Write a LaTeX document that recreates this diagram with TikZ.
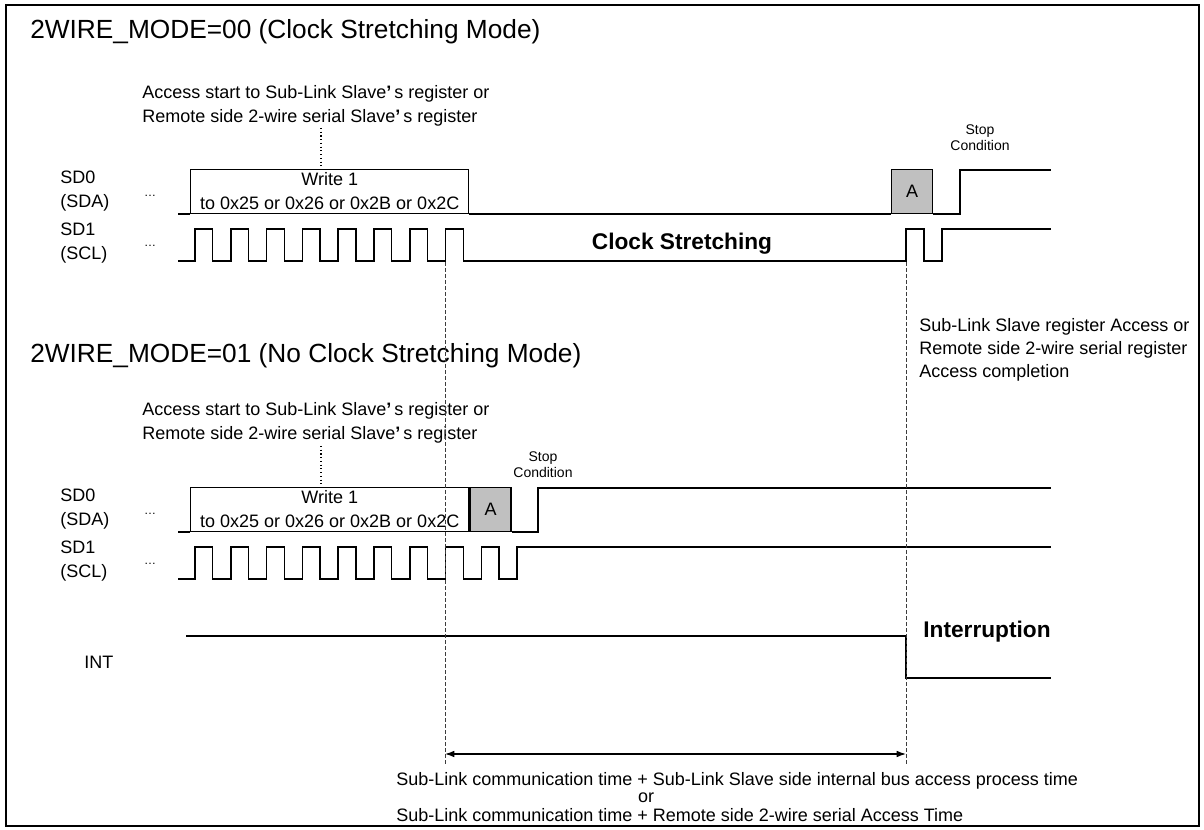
\documentclass[tikz,border=0pt]{standalone}
\usepackage{fontspec}
\setmainfont{Liberation Sans}
\usetikzlibrary{arrows.meta}
\definecolor{ackgray}{RGB}{192,192,192}
\definecolor{guidegray}{RGB}{60,60,60}

\begin{document}
\begin{tikzpicture}[x=0.75pt,y=-0.75pt,
    wave/.style={line width=1.1pt},
    guide/.style={line width=0.6pt, guidegray, dash pattern=on 3pt off 1.5pt},
    txt/.style={font=\fontsize{13.5}{18}\selectfont, inner sep=0pt, align=left},
    head/.style={font=\fontsize{19.7}{23}\selectfont, inner sep=0pt, anchor=west},
    big/.style={font=\bfseries\fontsize{17}{20}\selectfont, inner sep=0pt},
    tiny/.style={font=\fontsize{10.5}{12}\selectfont, inner sep=0pt, align=center},
    dotsym/.style={font=\fontsize{9}{10}\selectfont, inner sep=0pt},
    wbox/.style={draw, line width=1.1pt, txt, align=center, minimum width=208.5pt, minimum height=33pt, anchor=south west},
    abox/.style={draw, line width=1.1pt, fill=ackgray, txt, align=center, minimum width=30.75pt, minimum height=33pt, anchor=south west}]
        \useasboundingbox (0,0) rectangle (1204,830);
        \draw[line width=1.1pt] (6,5) rectangle (1199,826);

        % clock stretching mode
        \node[head] (t00) at (30,32) {2WIRE\_MODE=00 (Clock Stretching Mode)};
        \node[txt, anchor=west] (acc0) at (142,106) {Access start to Sub-Link Slave{\bfseries’}\,s register or\\Remote side 2-wire serial Slave{\bfseries’}\,s register};
        \draw[dotted, line width=0.8pt] (321,128) -- (321,170);

        \node[txt, anchor=west] (sda0) at (60,191) {SD0\\(SDA)};
        \node[txt, anchor=west] (scl0) at (60,243) {SD1\\(SCL)};
        \node[dotsym] (dsda0) at (150,196) {\dots};
        \node[dotsym] (dscl0) at (150,246) {\dots};

        \node[wbox] (wr0) at (190,214) {Write 1\\to 0x25 or 0x26 or 0x2B or 0x2C};
        \node[abox] (ack0) at (891,214) {A};
        \draw[wave] (178,214) -- (wr0.south west);
        \draw[wave] (wr0.south east) -- (ack0.south west);
        \draw[wave] (ack0.south east) -- (960,214) -- (960,170) -- (1051,170);
        \node[tiny] (stop0) at (980,138) {Stop\\Condition};

        \draw[wave] (178,261) -- (195,261)
            \foreach \k in {1,...,8} { -- ++(0,-32) -- ++(17.7,0) -- ++(0,32) -- ++(18.1,0) }
            -- (906,261) -- (906,229) -- (924,229) -- (924,261) -- (942,261) -- (942,229) -- (1051,229);
        \node[big] (cs) at (682,244) {Clock Stretching};

        % no clock stretching mode
        \node[head] (t01) at (30,356) {2WIRE\_MODE=01 (No Clock Stretching Mode)};
        \node[txt, anchor=west, font=\fontsize{13.5}{17.3}\selectfont] (done) at (919,350) {Sub-Link Slave register Access or\\Remote side 2-wire serial register\\Access completion};
        \node[txt, anchor=west] (acc1) at (142,423) {Access start to Sub-Link Slave{\bfseries’}\,s register or\\Remote side 2-wire serial Slave{\bfseries’}\,s register};
        \draw[dotted, line width=0.8pt] (321,446) -- (321,488);

        \node[txt, anchor=west] (sda1) at (60,509) {SD0\\(SDA)};
        \node[txt, anchor=west] (scl1) at (60,561) {SD1\\(SCL)};
        \node[dotsym] (dsda1) at (150,514) {\dots};
        \node[dotsym] (dscl1) at (150,564) {\dots};

        \node[wbox] (wr1) at (190,532) {Write 1\\to 0x25 or 0x26 or 0x2B or 0x2C};
        \node[abox] (ack1) at (wr1.south east) {A};
        \draw[wave] (178,532) -- (wr1.south west);
        \draw[wave] (ack1.south east) -- (538,532) -- (538,488) -- (1051,488);
        \node[tiny] (stop1) at (543,465) {Stop\\Condition};

        \draw[wave] (178,579) -- (195,579)
            \foreach \k in {1,...,9} { -- ++(0,-32) -- ++(17.7,0) -- ++(0,32) -- ++(18.1,0) }
            -- ++(0,-32) -- (1051,547);

        \draw[wave] (186,636) -- (906,636) -- (906,678) -- (1051,678);
        \node[big] (irq) at (987,632) {Interruption};
        \node[txt, anchor=west] (intl) at (84,662) {INT};

        % timing
        \coordinate (gl) at (445,766);
        \coordinate (gr) at (906,764);
        \draw[guide] (445,262) -- (gl);
        \draw[guide] (906,262) -- (gr);
        \coordinate (al) at (445,754);
        \coordinate (ar) at (906,754);
        \draw[{Latex[length=7pt,width=5pt]}-{Latex[length=7pt,width=5pt]}, line width=0.9pt] (al) -- (ar);

        \node[txt, anchor=west] (time1) at (396,781) {Sub-Link communication time + Sub-Link Slave side internal bus access process time};
        \node[txt] (timeor) at (646,798) {or};
        \node[txt, anchor=west] (time2) at (396,815) {Sub-Link communication time + Remote side 2-wire serial Access Time};
\end{tikzpicture}
\end{document}
